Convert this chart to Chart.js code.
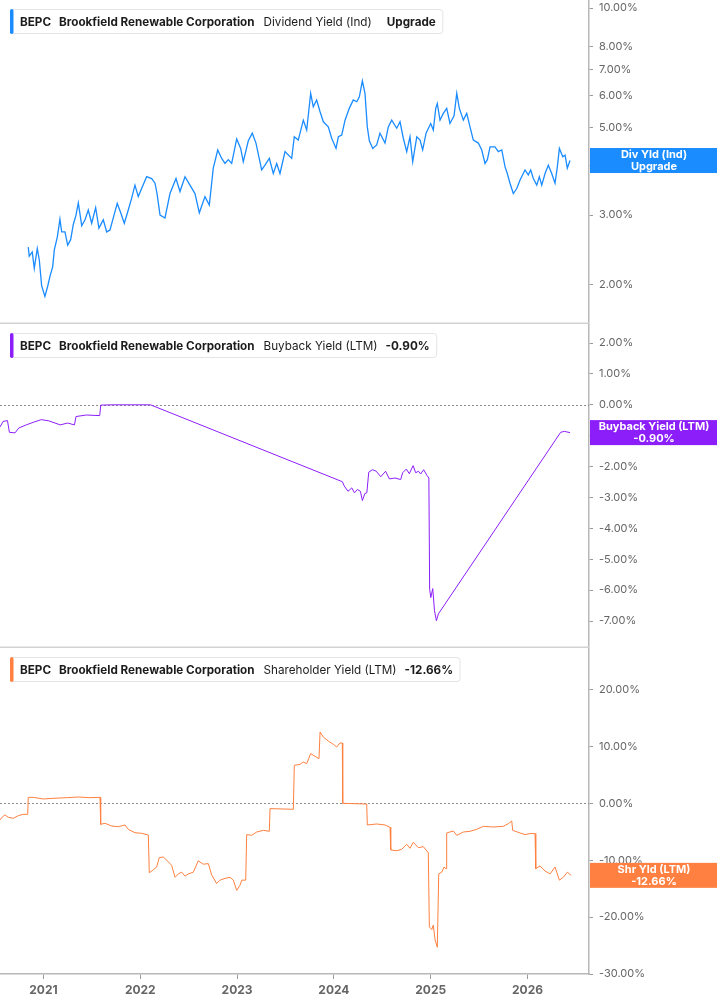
<!DOCTYPE html>
<html>
<head>
<meta charset="utf-8">
<script src="https://cdn.jsdelivr.net/npm/chart.js@4.4.1/dist/chart.umd.min.js"></script>
<style>
    html, body { margin: 0; padding: 0; background: #fff; }
    #wrap { position: relative; width: 717px; height: 1005px; }
    canvas { position: absolute; left: 0; }
</style>
</head>
<body>
<div id="wrap">
    <canvas id="divChart" width="717" height="324" style="top:0px"></canvas>
    <canvas id="buybackChart" width="717" height="324" style="top:324px"></canvas>
    <canvas id="shrChart" width="717" height="357" style="top:648px"></canvas>
</div>
<script>
// ---- data (dates are decimal years) ----
const yearTicks = [2021, 2022, 2023, 2024, 2025, 2026];

const divDates = [2020.843, 2020.853, 2020.884, 2020.905, 2020.936, 2020.957, 2020.981, 2021.015, 2021.043, 2021.067,
    2021.095, 2021.112, 2021.143, 2021.170, 2021.188, 2021.222, 2021.250, 2021.281, 2021.308, 2021.336,
    2021.360, 2021.395, 2021.429, 2021.463, 2021.498, 2021.539, 2021.573, 2021.618, 2021.653, 2021.687,
    2021.721, 2021.762, 2021.798, 2021.835, 2021.876, 2021.911, 2021.945, 2021.979, 2022.014, 2022.066,
    2022.118, 2022.152, 2022.173, 2022.204, 2022.255, 2022.307, 2022.369, 2022.410, 2022.462, 2022.513,
    2022.565, 2022.610, 2022.668, 2022.713, 2022.754, 2022.800, 2022.841, 2022.875, 2022.909, 2022.944,
    2022.996, 2023.037, 2023.064, 2023.116, 2023.157, 2023.195, 2023.254, 2023.288, 2023.333, 2023.374,
    2023.409, 2023.443, 2023.495, 2023.564, 2023.591, 2023.632, 2023.684, 2023.719, 2023.760, 2023.787,
    2023.822, 2023.857, 2023.891, 2023.942, 2023.977, 2024.022, 2024.046, 2024.081, 2024.115, 2024.159,
    2024.200, 2024.236, 2024.263, 2024.294, 2024.321, 2024.345, 2024.366, 2024.401, 2024.442, 2024.476,
    2024.528, 2024.562, 2024.597, 2024.649, 2024.683, 2024.717, 2024.752, 2024.786, 2024.814, 2024.856,
    2024.890, 2024.917, 2024.952, 2025.000, 2025.027, 2025.052, 2025.068, 2025.096, 2025.130, 2025.165,
    2025.199, 2025.241, 2025.269, 2025.296, 2025.337, 2025.372, 2025.406, 2025.440, 2025.492, 2025.527,
    2025.561, 2025.585, 2025.613, 2025.664, 2025.698, 2025.734, 2025.768, 2025.791, 2025.819, 2025.853,
    2025.889, 2025.923, 2025.974, 2026.008, 2026.033, 2026.060, 2026.095, 2026.122, 2026.147, 2026.181,
    2026.215, 2026.250, 2026.284, 2026.308, 2026.329, 2026.364, 2026.388, 2026.411, 2026.439];
const divYield = [2.49, 2.36, 2.42, 2.20, 2.47, 2.31, 1.99, 1.87, 1.98, 2.10,
    2.22, 2.45, 2.64, 2.93, 2.72, 2.72, 2.52, 2.60, 2.84, 3.00,
    3.22, 2.82, 2.92, 3.09, 2.86, 3.13, 2.78, 2.92, 2.72, 2.75,
    2.95, 3.21, 3.04, 2.86, 3.09, 3.31, 3.57, 3.34, 3.50, 3.75,
    3.71, 3.61, 3.40, 3.00, 2.95, 3.40, 3.71, 3.44, 3.75, 3.57,
    3.40, 3.04, 3.34, 3.18, 3.94, 4.38, 4.17, 4.05, 4.14, 4.05,
    4.67, 4.42, 4.09, 4.62, 4.83, 4.56, 3.90, 4.01, 4.17, 3.82,
    4.05, 3.82, 4.34, 4.17, 4.73, 4.64, 5.21, 4.92, 6.09, 5.63,
    5.86, 5.47, 5.16, 5.01, 4.69, 4.42, 4.73, 4.78, 5.21, 5.58,
    5.86, 5.80, 5.97, 6.55, 6.09, 5.01, 4.62, 4.42, 4.51, 4.83,
    4.56, 5.01, 5.21, 4.97, 5.16, 4.69, 4.34, 4.73, 4.09, 4.73,
    4.64, 4.38, 4.83, 5.11, 4.92, 5.58, 5.74, 5.21, 5.42, 5.58,
    5.11, 5.34, 6.09, 5.58, 5.21, 5.42, 5.01, 4.64, 4.56, 4.38,
    4.05, 4.14, 4.46, 4.46, 4.34, 4.38, 3.97, 3.82, 3.61, 3.40,
    3.50, 3.68, 3.90, 3.79, 3.90, 3.71, 3.57, 3.75, 3.57, 3.82,
    4.01, 3.82, 3.61, 3.97, 4.42, 4.21, 4.25, 3.94, 4.12];
const divTicks = [2, 3, 4, 5, 6, 7, 8, 10];

const buybackDates = [2020.551, 2020.582, 2020.628, 2020.648, 2020.706, 2020.745, 2020.822, 2020.901, 2020.978, 2021.056,
    2021.173, 2021.250, 2021.320, 2021.336, 2021.444, 2021.581, 2021.592, 2021.717, 2022.105, 2024.088,
    2024.107, 2024.146, 2024.185, 2024.212, 2024.243, 2024.274, 2024.294, 2024.320, 2024.340, 2024.360,
    2024.399, 2024.437, 2024.484, 2024.534, 2024.573, 2024.631, 2024.690, 2024.710, 2024.748, 2024.779,
    2024.818, 2024.845, 2024.873, 2024.896, 2024.927, 2024.962, 2024.981, 2024.989, 2025.001, 2025.021,
    2025.039, 2025.059, 2025.079, 2026.342, 2026.380, 2026.439];
const buybackYield = [-0.72, -0.54, -0.51, -0.89, -0.91, -0.75, -0.65, -0.56, -0.48, -0.52,
    -0.65, -0.59, -0.65, -0.38, -0.33, -0.35, -0.01, 0.00, 0.00, -2.49,
    -2.63, -2.80, -2.69, -2.85, -2.74, -2.80, -3.10, -2.87, -2.85, -2.18,
    -2.10, -2.15, -2.33, -2.15, -2.40, -2.37, -2.42, -2.20, -2.08, -2.23,
    -1.97, -2.20, -2.15, -2.24, -2.10, -2.29, -2.37, -5.97, -6.24, -5.95,
    -6.67, -6.99, -6.77, -0.89, -0.86, -0.90];
const buybackTicks = [2, 1, 0, -1, -2, -3, -4, -5, -6, -7];

const shrDates = [2020.551, 2020.579, 2020.602, 2020.636, 2020.688, 2020.740, 2020.791, 2020.837, 2020.843, 2020.895,
    2020.998, 2021.101, 2021.240, 2021.360, 2021.480, 2021.584, 2021.591, 2021.635, 2021.705, 2021.773,
    2021.842, 2021.876, 2021.945, 2022.014, 2022.083, 2022.093, 2022.134, 2022.169, 2022.196, 2022.238,
    2022.273, 2022.324, 2022.359, 2022.393, 2022.428, 2022.462, 2022.496, 2022.548, 2022.599, 2022.651,
    2022.703, 2022.738, 2022.789, 2022.823, 2022.875, 2022.927, 2022.961, 2022.996, 2023.030, 2023.048,
    2023.089, 2023.099, 2023.151, 2023.203, 2023.271, 2023.333, 2023.340, 2023.581, 2023.591, 2023.650,
    2023.684, 2023.719, 2023.760, 2023.805, 2023.846, 2023.857, 2023.891, 2023.942, 2023.994, 2024.029,
    2024.063, 2024.087, 2024.091, 2024.339, 2024.345, 2024.442, 2024.528, 2024.580, 2024.587, 2024.649,
    2024.701, 2024.752, 2024.786, 2024.820, 2024.872, 2024.924, 2024.975, 2024.986, 2025.011, 2025.027,
    2025.045, 2025.068, 2025.083, 2025.114, 2025.138, 2025.158, 2025.165, 2025.234, 2025.269, 2025.337,
    2025.406, 2025.475, 2025.544, 2025.647, 2025.750, 2025.802, 2025.837, 2025.847, 2025.923, 2025.974,
    2026.026, 2026.078, 2026.085, 2026.129, 2026.181, 2026.233, 2026.284, 2026.302, 2026.329, 2026.370,
    2026.411, 2026.450];
const shrYield = [-2.93, -2.34, -2.04, -2.45, -2.63, -2.17, -1.93, -1.93, 1.05, 1.05,
    0.76, 0.88, 0.99, 1.11, 0.99, 1.05, -3.69, -3.51, -3.99, -4.11,
    -3.81, -4.57, -5.17, -5.27, -5.57, -12.2, -11.7, -11.2, -9.54, -9.43,
    -10.0, -10.9, -13.0, -12.4, -12.1, -12.8, -12.4, -12.1, -10.1, -10.7,
    -10.6, -12.6, -14.1, -13.5, -13.2, -13.0, -13.5, -15.3, -14.4, -13.5,
    -13.5, -5.50, -5.62, -5.04, -4.75, -4.92, -0.93, -1.05, 6.68, 6.85,
    7.26, 6.97, 8.73, 8.26, 7.85, 12.53, 11.65, 10.95, 10.37, 9.90,
    10.6, 10.6, 0.00, -0.12, -3.81, -3.63, -3.81, -4.22, -8.20, -8.33,
    -8.08, -7.20, -7.91, -6.85, -7.80, -7.62, -8.68, -21.7, -22.2, -21.4,
    -24.0, -25.3, -12.4, -12.1, -11.2, -11.5, -5.21, -4.86, -5.62, -5.04,
    -4.92, -4.57, -4.04, -4.16, -4.04, -3.57, -3.10, -4.75, -5.21, -5.50,
    -5.32, -5.32, -11.5, -11.0, -11.9, -12.4, -11.2, -12.1, -13.5, -13.0,
    -12.1, -12.66];
const shrTicks = [20, 10, 0, -10, -20, -30];

Chart.defaults.font.family = 'Inter, Roboto, sans-serif';
Chart.defaults.animation = false;

function toPoints(dates, values) {
    return dates.map((d, i) => ({ x: d, y: values[i] }));
}

function pct(v) {
    return v.toFixed(2) + '%';
}

// remove the automatic label padding so the plot fills the canvas edge to edge
function tight(scale) {
    scale.paddingTop = 0;
    scale.paddingBottom = 0;
    scale.paddingLeft = 0;
    scale.paddingRight = 0;
}

const panelDecor = {
    id: 'panelDecor',
    beforeDatasetsDraw(chart, args, opts) {
        if (!opts.zeroLine) return;
        const ctx = chart.ctx;
        const area = chart.chartArea;
        const y0 = Math.round(chart.scales.y.getPixelForValue(0)) + 0.5;
        ctx.save();
        ctx.strokeStyle = '#8c8c8c';
        ctx.lineWidth = 1;
        ctx.setLineDash([2, 2]);
        ctx.beginPath();
        ctx.moveTo(area.left, y0);
        ctx.lineTo(area.right, y0);
        ctx.stroke();
        ctx.restore();
    },
    afterDraw(chart, args, opts) {
        const ctx = chart.ctx;
        const area = chart.chartArea;
        ctx.save();

        if (opts.separator) {
            ctx.strokeStyle = '#d2d2d2';
            ctx.lineWidth = 1.5;
            ctx.beginPath();
            ctx.moveTo(area.left, area.bottom - 0.75);
            ctx.lineTo(area.right, area.bottom - 0.75);
            ctx.stroke();
        }

        // legend box top-left
        let x = 20;
        const pieces = opts.legend.map(p => {
            ctx.font = (p.bold ? 'bold ' : '') + '11.7px Inter, Roboto, sans-serif';
            x += (p.gap || 0);
            const item = { text: p.text, font: ctx.font, x: x };
            x += ctx.measureText(p.text).width;
            return item;
        });
        const boxRight = x + 7;
        ctx.fillStyle = '#ffffff';
        ctx.strokeStyle = '#e4e4e4';
        ctx.lineWidth = 1;
        ctx.beginPath();
        ctx.roundRect(10.5, 9.5, boxRight - 10.5, 24, 3);
        ctx.fill();
        ctx.stroke();
        ctx.fillStyle = opts.color;
        ctx.beginPath();
        ctx.roundRect(10, 9, 3.5, 25, 2);
        ctx.fill();
        ctx.fillStyle = '#1c1c1c';
        ctx.textBaseline = 'alphabetic';
        ctx.textAlign = 'left';
        pieces.forEach(p => {
            ctx.font = p.font;
            ctx.fillText(p.text, p.x, 25.5);
        });

        // last value tag on the right axis
        const data = chart.data.datasets[0].data;
        const last = data[data.length - 1].y;
        const yc = chart.scales.y.getPixelForValue(last);
        ctx.fillStyle = opts.color;
        ctx.fillRect(area.right + 1, yc - 12.5, chart.width - area.right - 1, 25);
        ctx.fillStyle = '#ffffff';
        ctx.font = 'bold 11px Inter, Roboto, sans-serif';
        ctx.textAlign = 'center';
        ctx.textBaseline = 'middle';
        const cx = (area.right + chart.width) / 2 + 1;
        ctx.fillText(opts.tag[0], cx, yc - 6);
        ctx.fillText(opts.tag[1], cx, yc + 6);
        ctx.restore();
    }
};

function makePanel(canvasId, dates, values, color, lineWidth, yScale, decor, showX) {
    const xScale = {
        type: 'linear',
        min: 2020.551,
        max: 2026.635,
        display: showX,
        afterBuildTicks: (s) => { s.ticks = yearTicks.map(v => ({ value: v })); },
        afterFit: (s) => { tight(s); if (showX) s.height = 31; },
        border: { display: true, color: '#b8b8b8', width: 1.5 },
        grid: { drawOnChartArea: false, drawTicks: true, tickLength: 5, color: '#9a9a9a' },
        ticks: {
            padding: 4,
            color: '#666666',
            font: { size: 12, weight: 'bold' },
            maxRotation: 0,
            callback: (v) => String(v)
        }
    };
    const y = Object.assign({
        position: 'right',
        afterFit: (s) => { tight(s); s.width = 128; },
        border: { display: true, color: '#b8b8b8', width: 1.5 },
        grid: { drawOnChartArea: false, drawTicks: true, tickLength: 4, color: '#9a9a9a' },
        ticks: { padding: 6, color: '#666666', font: { size: 11 }, callback: (v) => pct(v) }
    }, yScale);

    return new Chart(document.getElementById(canvasId).getContext('2d'), {
        type: 'line',
        data: {
            datasets: [{
                data: toPoints(dates, values),
                borderColor: color,
                borderWidth: lineWidth,
                pointRadius: 0,
                tension: 0
            }]
        },
        options: {
            responsive: false,
            layout: { padding: 0 },
            scales: { x: xScale, y: y },
            plugins: {
                legend: { display: false },
                tooltip: { enabled: false },
                panelDecor: decor
            }
        },
        plugins: [panelDecor]
    });
}

const divChart = makePanel('divChart', divDates, divYield, '#1a8cff', 1.3, {
    type: 'logarithmic',
    min: 1.592,
    max: 10.48,
    afterBuildTicks: (s) => { s.ticks = divTicks.map(v => ({ value: v })); }
}, {
    color: '#1a8cff',
    separator: true,
    zeroLine: false,
    tag: ['Div Yld (Ind)', 'Upgrade'],
    legend: [
        { text: 'BEPC', bold: true },
        { text: 'Brookfield Renewable Corporation', bold: true, gap: 8 },
        { text: 'Dividend Yield (Ind)', bold: false, gap: 9 },
        { text: 'Upgrade', bold: true, gap: 15 }
    ]
}, false);

const buybackChart = makePanel('buybackChart', buybackDates, buybackYield, '#8c1ef9', 1, {
    type: 'linear',
    min: -7.873,
    max: 2.616,
    afterBuildTicks: (s) => { s.ticks = buybackTicks.map(v => ({ value: v })); }
}, {
    color: '#8c1ef9',
    separator: true,
    zeroLine: true,
    tag: ['Buyback Yield (LTM)', '-0.90%'],
    legend: [
        { text: 'BEPC', bold: true },
        { text: 'Brookfield Renewable Corporation', bold: true, gap: 8 },
        { text: 'Buyback Yield (LTM)', bold: false, gap: 9 },
        { text: '-0.90%', bold: true, gap: 8 }
    ]
}, false);

const shrChart = makePanel('shrChart', shrDates, shrYield, '#ff8040', 1, {
    type: 'linear',
    min: -30,
    max: 27.3,
    afterBuildTicks: (s) => { s.ticks = shrTicks.map(v => ({ value: v })); }
}, {
    color: '#ff8040',
    separator: false,
    zeroLine: true,
    tag: ['Shr Yld (LTM)', '-12.66%'],
    legend: [
        { text: 'BEPC', bold: true },
        { text: 'Brookfield Renewable Corporation', bold: true, gap: 8 },
        { text: 'Shareholder Yield (LTM)', bold: false, gap: 9 },
        { text: '-12.66%', bold: true, gap: 8 }
    ]
}, true);
</script>
</body>
</html>
